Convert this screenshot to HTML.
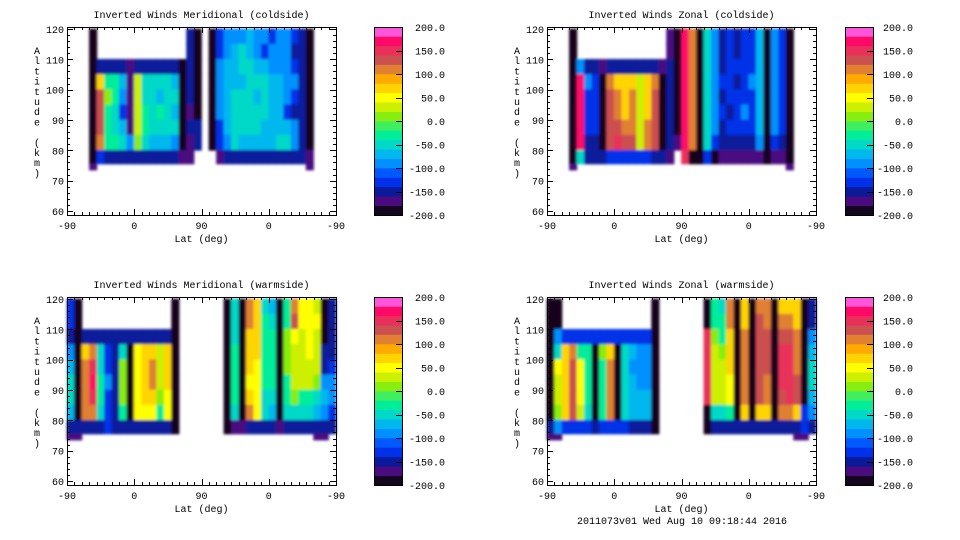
<!DOCTYPE html>
<html><head><meta charset="utf-8"><style>
html,body{margin:0;padding:0;background:#fff;width:960px;height:540px;overflow:hidden}
svg text{font-family:"Liberation Mono",monospace;font-size:10px;fill:#000}
</style></head><body>
<svg id="chart" width="960" height="540" viewBox="0 0 960 540" xmlns="http://www.w3.org/2000/svg">
<defs><filter id="soft" x="-5%" y="-5%" width="110%" height="110%"><feGaussianBlur stdDeviation="1.4"/></filter></defs>
</svg>
<script>
const _ = null;
const colorLevels = ["#14061e","#4a0a80","#0a1a9a","#0030e8","#0058ff","#0090ff","#00b8ee","#00d8c8","#00ee9a","#40ee60","#88ee10","#ccf000","#ffff00","#ffd400","#ffaa00","#e08030","#cc5050","#e8305a","#ff0868","#ff55dd"];
const cbarTicks = [200,150,100,50,0,-50,-100,-150,-200];
const latTickLabels = ["-90","0","90","0","-90"];
const altTicks = [120,110,100,90,80,70,60];
const altBandTops = [120,115,110,105,100,95,90,85,80,75.5];
const altBandBottoms = [115,110,105,100,95,90,85,80,75.5,73.5];
const panelTitles = ["Inverted Winds Meridional (coldside)","Inverted Winds Zonal (coldside)","Inverted Winds Meridional (warmside)","Inverted Winds Zonal (warmside)"];

const merCold = [
[_,_,_,-200,_,_,_,_,_,_,_,_,_,_,_,_,-150,-200,_,-200,-125,-100,-100,-100,-75,-100,-100,-125,-100,-100,-125,-150,-200,_,_,_],
[_,_,_,-200,_,_,_,_,_,_,_,_,_,_,_,_,-150,-200,_,-200,-125,-100,-75,-50,-75,-100,-125,-100,-100,-100,-150,-150,-200,_,_,_],
[_,_,_,-200,-150,-150,-150,-150,-175,-150,-150,-150,-150,-150,-150,-200,-150,-200,_,-200,-100,-75,-75,-50,-50,-75,-75,-100,-100,-100,-125,-150,-200,_,_,_],
[_,_,_,-200,75,-25,-25,-75,-175,25,-50,-50,-50,-50,-75,-200,-150,-200,_,-200,-100,-75,-75,-75,-50,-50,-50,-75,-75,-100,-100,-150,-200,_,_,_],
[_,_,_,-200,125,0,-25,-100,-175,25,-50,-50,-75,-50,-50,-200,-150,-200,_,-200,-100,-75,-50,-50,-50,-75,-50,-75,-75,-100,-125,-150,-200,_,_,_],
[_,_,_,-200,125,-25,-50,-125,-175,25,-25,-50,-25,-50,-75,-200,-175,-200,_,-200,-100,-75,-50,-50,-50,-50,-50,-75,-75,-125,-150,-150,-200,_,_,_],
[_,_,_,-200,125,-25,-50,-75,-175,25,-25,-50,-50,-50,-50,-200,-150,-150,_,-200,-125,-75,-50,-50,-50,-50,-75,-75,-75,-75,-100,-150,-200,_,_,_],
[_,_,_,-200,100,-25,-25,-50,-100,0,-50,-75,-75,-75,-100,-200,-175,-150,_,-200,-125,-100,-50,-75,-75,-75,-75,-75,-50,-50,-100,-150,-200,_,_,_],
[_,_,_,-200,-125,-150,-150,-150,-150,-150,-150,-150,-150,-150,-150,-175,-175,_,_,_,-175,-150,-150,-150,-150,-150,-150,-150,-150,-150,-150,-150,-175,_,_,_],
[_,_,_,-175,_,_,_,_,_,_,_,_,_,_,_,_,_,_,_,_,_,_,_,_,_,_,_,_,_,_,_,_,-175,_,_,_]
];
const zonCold = [
[_,_,_,-200,_,_,_,_,_,_,_,_,_,_,_,_,-175,-200,175,100,-200,-50,-100,-150,-125,-150,-125,-125,-75,-200,-100,-125,-200,_,_,_],
[_,_,_,-200,_,_,_,_,_,_,_,_,_,_,_,_,-175,-200,175,100,-200,-50,-100,-150,-125,-150,-125,-125,-75,-200,-100,-125,-200,_,_,_],
[_,_,_,-200,-100,-150,-150,-175,-150,-150,-150,-150,-150,-150,-150,-175,-150,-200,175,100,-200,-50,-100,-150,-125,-125,-125,-125,-75,-200,-100,-125,-200,_,_,_],
[_,_,_,-200,175,-100,-125,-200,100,75,75,75,25,75,100,-200,-150,-200,175,100,-200,-50,-100,-125,-125,-150,-125,-100,-75,-200,-100,-125,-200,_,_,_],
[_,_,_,-200,175,-125,-125,-200,125,100,75,100,25,75,125,-200,-150,-200,175,100,-200,-50,-100,-150,-125,-125,-125,-125,-75,-200,-100,-125,-200,_,_,_],
[_,_,_,-200,175,-125,-125,-200,125,100,75,100,25,75,125,-200,-150,-200,175,100,-200,-50,-100,-125,-150,-125,-100,-125,-75,-200,-100,-125,-200,_,_,_],
[_,_,_,-200,175,-125,-125,-200,125,125,100,100,25,100,125,-200,-150,-200,175,100,-200,-50,-100,-150,-125,-125,-125,-125,-75,-200,-100,-125,-200,_,_,_],
[_,_,_,-200,175,-150,-150,-200,125,150,125,125,25,100,125,-200,-150,-175,175,100,-200,-50,-125,-150,-150,-150,-150,-150,-100,-200,-125,-150,-200,_,_,_],
[_,_,_,-200,-50,-150,-150,-150,-125,-125,-125,-125,-125,-125,-150,-150,-175,_,150,-200,-200,-125,-200,-175,-175,-175,-175,-175,-175,-200,-175,-175,-200,_,_,_],
[_,_,_,-175,_,_,_,_,_,_,_,_,_,_,_,_,_,_,_,_,_,_,_,_,_,_,_,_,_,_,_,_,-175,_,_,_]
];
const merWarm = [
[-125,-200,_,_,_,_,_,_,_,_,_,_,_,_,-200,_,_,_,_,_,_,-200,-50,-200,100,75,-50,-75,-200,-25,100,50,50,25,-200,-150],
[-125,-200,_,_,_,_,_,_,_,_,_,_,_,_,-200,_,_,_,_,_,_,-200,-50,-200,100,75,-25,-50,-200,-25,125,50,50,50,-200,-150],
[-150,-200,-150,-150,-150,-150,-150,-150,-150,-150,-150,-150,-150,-150,-200,_,_,_,_,_,_,-200,-50,-200,75,75,-25,-25,-200,0,50,25,50,25,-200,-150],
[-100,-200,75,100,-50,-125,-150,-50,-200,50,75,75,25,75,-200,_,_,_,_,_,_,-200,-25,-200,75,75,-25,-25,-200,0,25,25,50,25,-150,-150],
[-75,-200,100,150,-50,-125,-150,0,-200,50,75,100,25,75,-200,_,_,_,_,_,_,-200,-25,-200,75,50,-25,-25,-200,0,25,25,25,25,-150,-125],
[-50,-200,100,175,-25,-100,-150,0,-200,50,75,100,25,75,-200,_,_,_,_,_,_,-200,-25,-200,50,50,-25,-25,-200,-25,25,25,25,0,-100,-100],
[-50,-200,100,150,-25,-125,-150,0,-200,50,75,75,0,50,-200,_,_,_,_,_,_,-200,-25,-200,75,50,-50,-50,-200,-25,0,-25,-25,-50,-75,-100],
[-75,-200,100,100,-50,-125,-150,-25,-200,50,50,50,-25,50,-200,_,_,_,_,_,_,-200,-50,-200,100,50,-50,-75,-200,-50,-50,-50,-50,-75,-100,-125],
[-150,-150,-150,-150,-150,-125,-150,-150,-150,-150,-150,-150,-150,-150,-200,_,_,_,_,_,_,-200,-175,-175,-150,-150,-150,-150,-175,-150,-150,-150,-150,-150,-150,-150],
[-175,-175,_,_,_,_,_,_,_,_,_,_,_,_,_,_,_,_,_,_,_,_,_,_,_,_,_,_,_,_,_,_,_,-175,-175,_]
];
const zonWarm = [
[-200,-200,_,_,_,_,_,_,_,_,_,_,_,_,-200,_,_,_,_,_,_,-200,-25,-50,100,-200,75,-200,100,100,-200,75,75,75,-200,-150],
[-200,-200,_,_,_,_,_,_,_,_,_,_,_,_,-200,_,_,_,_,_,_,-200,-25,-25,100,-200,75,-200,125,100,-200,100,100,75,-200,-150],
[-200,-100,-125,-125,-125,-125,-125,-125,-125,-125,-125,-125,-125,-125,-200,_,_,_,_,_,_,150,0,-25,75,-200,100,-200,125,125,-200,125,125,100,-200,-100],
[-200,-50,75,100,-25,-25,-200,0,75,-200,-50,-75,-100,-100,-200,_,_,_,_,_,_,150,25,0,75,-200,100,-200,125,125,-200,150,150,100,-200,-75],
[-200,50,75,125,50,-25,-200,-25,100,-200,-50,-100,-100,-100,-200,_,_,_,_,_,_,150,25,25,75,-200,100,-200,125,125,-200,150,150,100,-200,-50],
[-200,25,75,125,50,-25,-200,-25,100,-200,-50,-75,-100,-100,-200,_,_,_,_,_,_,150,25,25,50,-200,100,-200,125,100,-200,150,150,125,-200,-50],
[-200,25,75,125,50,-25,-200,-25,100,-200,-50,-75,-75,-75,-200,_,_,_,_,_,_,150,25,25,50,-200,100,-200,125,100,-200,125,150,125,-200,-75],
[-200,0,75,125,25,-50,-200,-25,100,-200,-50,-75,-75,-75,-200,_,_,_,_,_,_,-200,-50,-50,-25,-200,75,-200,75,75,-200,100,100,75,-125,-100],
[-150,-100,-125,-125,-125,-125,-150,-125,-125,-125,-125,-150,-150,-150,-200,_,_,_,_,_,_,-200,-150,-150,-150,-150,-150,-150,-150,-150,-150,-150,-150,-150,-125,-150],
[-175,-175,_,_,_,_,_,_,_,_,_,_,_,_,_,_,_,_,_,_,_,_,_,_,_,_,_,_,_,_,_,_,_,-175,-175,_]
];
const panelGrids = [merCold, zonCold, merWarm, zonWarm];

const NS = "http://www.w3.org/2000/svg";
const svg = document.getElementById('chart');
function mk(tag, attrs, parent, txt){
  const e = document.createElementNS(NS, tag);
  for (const k in attrs) e.setAttribute(k, attrs[k]);
  if (txt !== undefined) e.textContent = txt;
  (parent || svg).appendChild(e);
  return e;
}
function colorFor(v){
  let i = Math.floor((v + 200) / 20);
  if (i < 0) i = 0; if (i > 19) i = 19;
  return colorLevels[i];
}
const panelPos = [[67,27,374,445],[547,27,845,913],[67,297,374,445],[547,297,845,913]];
const PW = 269, PH = 188;

panelPos.forEach((p, pi) => {
  const [x0, y0, cbx, cbLabelX] = p;
  const g = mk('g', {});
  
  
  const xs = d => x0 + d * PW / 360;
  const ys = a => y0 + 2 + (120 - a) * 182 / 60;
  const title = mk('text', {x: x0 + PW / 2, y: y0 - 9, 'text-anchor': 'middle'}, g, panelTitles[pi]);
  
  
  const cells = mk('g', {filter: 'url(#soft)'}, g);
  
  
  const grid = panelGrids[pi];
  grid.forEach((row, r) => {
    row.forEach((v, c) => {
      if (v === null) return;
      const top = altBandTops[r], bot = altBandBottoms[r];
      const rc = mk('rect', {x: xs(c * 10) - 0.3, y: ys(top) - 0.3, width: xs((c + 1) * 10) - xs(c * 10) + 0.6, height: ys(bot) - ys(top) + 0.6, fill: colorFor(v)}, cells);
      
      
    });
  });
  const fr = mk('rect', {x: x0 + 0.5, y: y0 + 0.5, width: PW, height: PH, fill: 'none', stroke: '#000', 'stroke-width': 1}, g);
  
  
  let tp = '';
  for (let d = 0; d <= 360; d += 10) {
    const L = (d % 90 === 0) ? 6 : 3; const X = Math.round(xs(d)) + 0.5;
    tp += `M${X},${y0 + PH}v${-L}M${X},${y0}v${L}`;
  }
  for (let a = 60; a <= 120; a += 2) {
    const L = (a % 10 === 0) ? 6 : 3; const Y = Math.round(ys(a)) + 0.5;
    tp += `M${x0},${Y}h${L}M${x0 + PW},${Y}h${-L}`;
  }
  const tk = mk('path', {d: tp, stroke: '#000', 'stroke-width': 1, fill: 'none'}, g);
  
  
  latTickLabels.forEach((t, i) => {
    const e = mk('text', {x: xs(i * 90), y: y0 + PH + 14, 'text-anchor': 'middle'}, g, t);
    
    
  });
  altTicks.forEach(a => {
    const e = mk('text', {x: x0 - 3, y: ys(a) + 4, 'text-anchor': 'end'}, g, String(a));
    
    
  });
  const xt = mk('text', {x: x0 + PW / 2, y: y0 + PH + 27, 'text-anchor': 'middle'}, g, 'Lat (deg)');
  
  
  const yt = mk('text', {x: x0 - 30, y: y0 + 26, 'text-anchor': 'middle'}, g);
  
  
  'Altitude (km)'.split('').forEach((ch, i) => {
    mk('tspan', {x: x0 - 30, y: y0 + 27 + i * 10.2}, yt, ch);
  });
  const cb = mk('g', {}, g);
  
  
  const bh = PH / colorLevels.length;
  colorLevels.forEach((col, i) => {
    const rr = mk('rect', {x: cbx, y: y0 + PH - (i + 1) * bh, width: 28, height: bh + 0.3, fill: col}, cb);
    
    
  });
  mk('rect', {x: cbx + 0.5, y: y0 + 0.5, width: 28, height: PH, fill: 'none', stroke: '#000'}, cb);
  cbarTicks.forEach(v => {
    const Y = y0 + PH - (v + 200) / 400 * PH;
    mk('path', {d: `M${cbx + 22},${Math.round(Y) + 0.5}h7`, stroke: '#000'}, cb);
    const e = mk('text', {x: cbLabelX, y: Y + 4, 'text-anchor': 'end'}, cb, v.toFixed(1));
    
    
  });
});
const ft = mk('text', {x: 682, y: 524, 'text-anchor': 'middle'}, svg, '2011073v01 Wed Aug 10 09:18:44 2016');


</script>
</body></html>
